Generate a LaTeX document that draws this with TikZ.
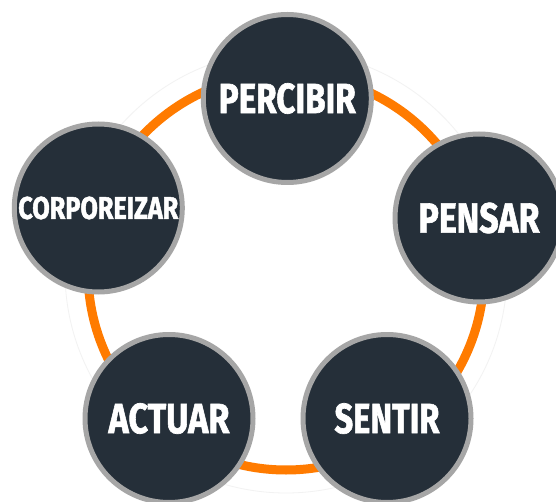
\documentclass[tikz,border=0pt]{standalone}
\usepackage{fontspec}
\setmainfont{Fira Sans}
\newfontfamily\labfont[BoldFeatures={FakeBold=1.6}]{Fira Sans}
\usepackage{graphicx}
\definecolor{ringorange}{HTML}{FF7B00}
\definecolor{darkfill}{HTML}{252F39}
\definecolor{rimgray}{HTML}{A6A6A6}
\definecolor{faintgray}{HTML}{F2F2F2}
\tikzset{
  stage/.style={circle, draw=rimgray, line width=5pt, fill=darkfill,
    minimum size=168pt, inner sep=0pt, text=white, font=\labfont\bfseries},
  ring/.style={draw=ringorange, line width=9pt},
  faint/.style={draw=faintgray, line width=0.8pt}
}
\newcommand{\lab}[3]{\resizebox{#1pt}{#2pt}{#3}}
\begin{document}
\begin{tikzpicture}[x=1pt,y=-1pt]
\useasboundingbox (0,0) rectangle (556,502);
\clip (0,0) rectangle (556,502);
\fill[white] (0,0) rectangle (556,502);
\coordinate (c) at (286,272);
\draw[faint] (c) circle[radius=221];
\draw[ring] (c) circle[radius=198];
\node[stage] (percibir) at (287.3,98.5) {\lab{137}{30}{PERCIBIR}};
\node[stage] (pensar) at (479,218) {\lab{121}{30}{PENSAR}};
\node[stage] (sentir) at (387,418.5) {\lab{105}{30}{SENTIR}};
\node[stage] (actuar) at (169,418.5) {\lab{121}{30}{ACTUAR}};
\node[stage] (corporeizar) at (98.3,208) {\lab{160}{22.3}{CORPOREIZAR}};
\end{tikzpicture}
\end{document}
